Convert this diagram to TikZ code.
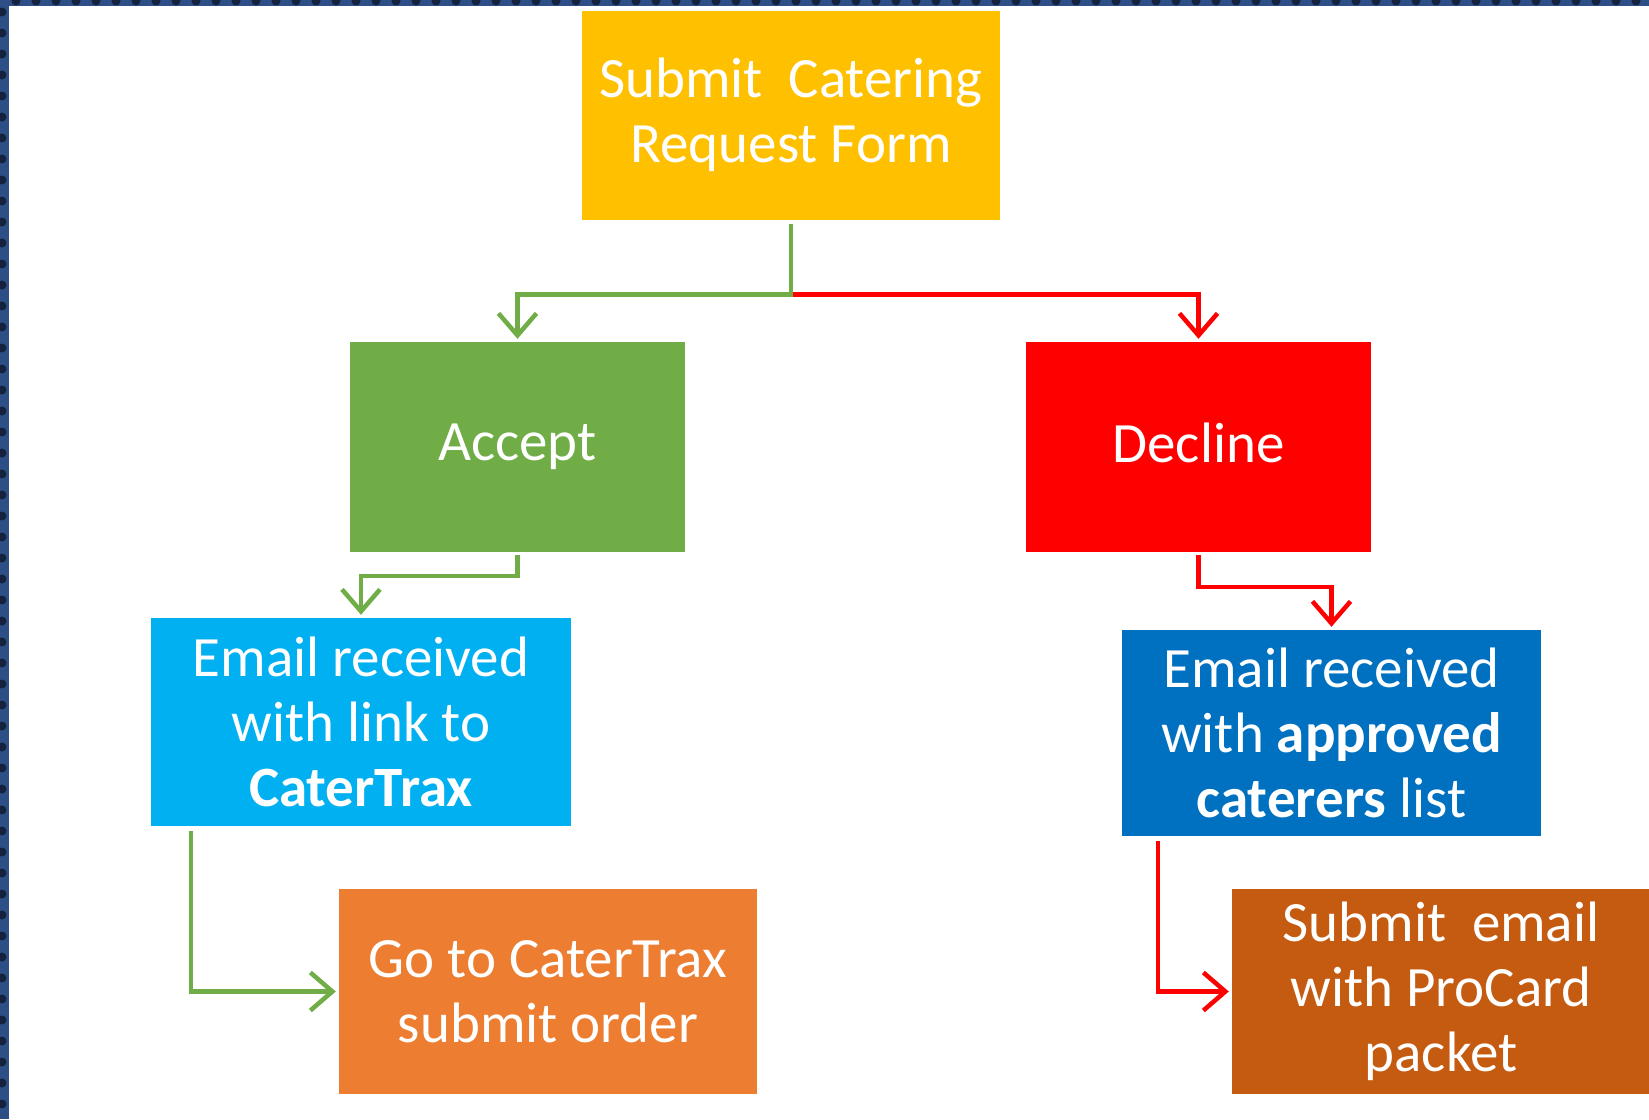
\documentclass[tikz,border=0pt]{standalone}
\usepackage{fontspec}
\setmainfont{Carlito}
\usetikzlibrary{arrows.meta,calc}
\definecolor{cyel}{HTML}{FFC000}
\definecolor{cgrn}{HTML}{70AD47}
\definecolor{cred}{HTML}{FF0000}
\definecolor{ccyan}{HTML}{00B0F0}
\definecolor{cblue}{HTML}{0070C0}
\definecolor{corg}{HTML}{ED7D31}
\definecolor{cbrown}{HTML}{C55A11}
\definecolor{cframe}{HTML}{2E4F86}
\definecolor{cdot}{HTML}{14223E}
\begin{document}
\begin{tikzpicture}[x=1pt,y=-1pt,
  box/.style={rectangle, inner sep=0pt, align=center, text=white,
    font=\fontsize{57}{65}\selectfont},
  conn/.style={line width=4.5pt, -{Straight Barb[length=22pt,width=38pt]}, shorten >=3pt},
  gline/.style={conn, draw=cgrn},
  rline/.style={conn, draw=cred}]
\useasboundingbox (0,0) rectangle (1649,1119);
\fill[white] (0,0) rectangle (1649,1119);
% frame strips
\begin{scope}
\clip (0,0) rectangle (1649,6) (0,0) rectangle (9,1119);
\fill[cframe] (0,0) rectangle (1649,6);
\fill[cframe] (0,0) rectangle (9,1119);
\foreach \i in {0,...,82} \fill[cdot] (\i*20+16,1) circle[radius=4.5pt];
\foreach \j in {0,...,53} \fill[cdot] (2,\j*21+12) circle[radius=4.5pt];
\end{scope}
% boxes
\node[box, fill=cyel, minimum width=418pt, minimum height=209pt] (submit) at (791,115) {Submit\ \ Catering\\Request Form};
\node[box, fill=cgrn, minimum width=335pt, minimum height=210pt] (accept) at (517.5,447) {Accept};
\node[box, fill=cred, minimum width=345pt, minimum height=210pt] (decline) at (1198.5,447) {Decline\vphantom{p}};
\node[box, fill=ccyan, minimum width=420pt, minimum height=208pt] (email1) at (361,722) {Email received\\with link to\\\textbf{CaterTrax}};
\node[box, fill=cblue, minimum width=419pt, minimum height=206pt] (email2) at (1331.5,733) {Email received\\with \textbf{approved}\\\textbf{caterers} list};
\node[box, fill=corg, minimum width=418pt, minimum height=205pt] (goto) at (548,991.5) {Go to CaterTrax\\submit order};
\node[box, fill=cbrown, minimum width=418pt, minimum height=205pt] (procard) at (1441,991.5) {Submit\ \ email\\with ProCard\\packet};
% connectors
\coordinate (j) at ($(submit.south)+(0,75)$);
\draw[rline] (j) -| (decline.north);
\draw[gline] ($(submit.south)+(0,4)$) -- (j) -| (accept.north);
\draw[gline] ($(accept.south)+(0,3)$) -- ++(0,21) -| (email1.north);
\draw[rline] ($(decline.south)+(0,3)$) -- ++(0,32) -| (email2.north);
\draw[gline] ($(email1.south west)+(40,5)$) |- (goto.west);
\draw[rline] ($(email2.south west)+(36,5)$) |- (procard.west);
\end{tikzpicture}
\end{document}
